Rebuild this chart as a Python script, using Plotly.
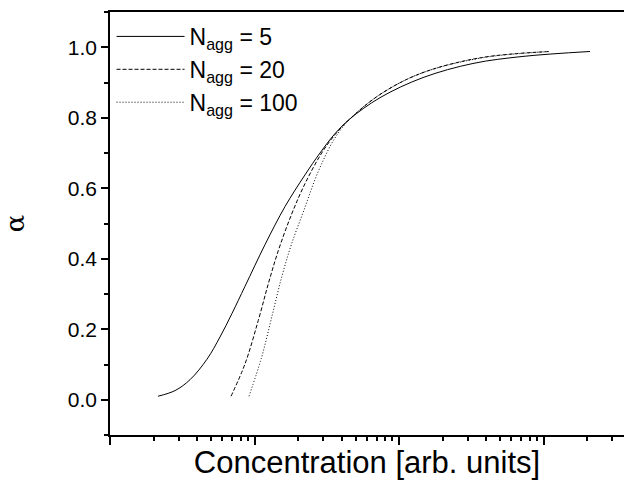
import plotly.graph_objects as go

# Degree of aggregation alpha vs. total concentration for three aggregation numbers
conc_n5 = [0.0215, 0.0282, 0.0358, 0.0469, 0.0577, 0.0699, 0.0860, 0.1182, 0.1626,
           0.2236, 0.2840, 0.3607, 0.458, 0.739, 1.466, 3.25, 7.21, 21.0]
alpha_n5 = [0.010, 0.026, 0.057, 0.115, 0.178, 0.245, 0.322, 0.440, 0.548,
            0.638, 0.700, 0.755, 0.797, 0.857, 0.914, 0.954, 0.974, 0.988]

conc_n20 = [0.0688, 0.0860, 0.1062, 0.1246, 0.1461, 0.1809, 0.2236, 0.2918, 0.3607,
            0.458, 0.739, 1.397, 3.636, 11.09]
alpha_n20 = [0.010, 0.102, 0.225, 0.329, 0.423, 0.527, 0.613, 0.700, 0.752,
             0.797, 0.866, 0.925, 0.970, 0.988]

conc_n100 = [0.0916, 0.1121, 0.1315, 0.1542, 0.1809, 0.2236, 0.2623, 0.3076, 0.3607,
             0.458, 0.739, 1.397, 3.636, 10.24]
alpha_n100 = [0.010, 0.121, 0.234, 0.348, 0.443, 0.546, 0.625, 0.690, 0.743,
              0.797, 0.866, 0.925, 0.969, 0.987]

series = [
    ("N<sub>agg</sub> = 5", conc_n5, alpha_n5, "solid"),
    ("N<sub>agg</sub> = 20", conc_n20, alpha_n20, "4px,2px"),
    ("N<sub>agg</sub> = 100", conc_n100, alpha_n100, "1px,2px"),
]

y_ticks = [0.0, 0.2, 0.4, 0.6, 0.8, 1.0]
y_labels = ["0.0", "0.2", "0.4", "0.6", "0.8", "1.0"]

FONT = "Liberation Sans, Arial, sans-serif"

fig = go.Figure()
for name, xs, ys, dash in series:
    fig.add_trace(go.Scatter(
        x=xs, y=ys, mode="lines", name=name,
        line=dict(color="black", width=1, dash=dash, shape="spline", smoothing=1.0),
    ))

fig.update_layout(
    width=624, height=486,
    margin=dict(l=110, r=0, t=12, b=51),
    paper_bgcolor="white", plot_bgcolor="white",
    font=dict(family=FONT, color="black"),
    showlegend=True,
    legend=dict(
        x=0.003, y=0.993, xanchor="left", yanchor="top",
        bgcolor="rgba(0,0,0,0)", borderwidth=0,
        font=dict(size=23, family=FONT, color="black"),
        itemwidth=68, tracegroupgap=0,
    ),
    xaxis=dict(
        type="log", range=[-2, 1.557],
        showgrid=False, zeroline=False,
        showline=True, linecolor="black", linewidth=1.5, mirror=True,
        ticks="outside", ticklen=8, tickwidth=1.5, tickcolor="black",
        dtick=1, showticklabels=False,
        minor=dict(ticks="outside", ticklen=4, tickwidth=1.5, tickcolor="black", dtick="D1"),
        title=dict(text="Concentration [arb. units]", font=dict(size=31, family=FONT), standoff=8),
    ),
    yaxis=dict(
        range=[-0.1, 1.1],
        showgrid=False, zeroline=False,
        showline=True, linecolor="black", linewidth=1.5,
        ticks="outside", ticklen=7, tickwidth=1.5, tickcolor="black",
        tickvals=y_ticks, ticktext=y_labels,
        tickfont=dict(size=21, family=FONT),
        minor=dict(ticks="outside", ticklen=4, tickwidth=1.5, tickcolor="black", dtick=0.1, tick0=0),
        title=dict(text="α", font=dict(size=26, family="DejaVu Serif"), standoff=36),
    ),
    yaxis2=dict(
        overlaying="y", side="right", range=[-0.1, 1.1],
        showgrid=False, zeroline=False, showline=False,
        ticks="inside", ticklen=2, tickwidth=1.5, tickcolor="black",
        tickvals=y_ticks, showticklabels=False,
    ),
)

fig.write_html("out.html")
